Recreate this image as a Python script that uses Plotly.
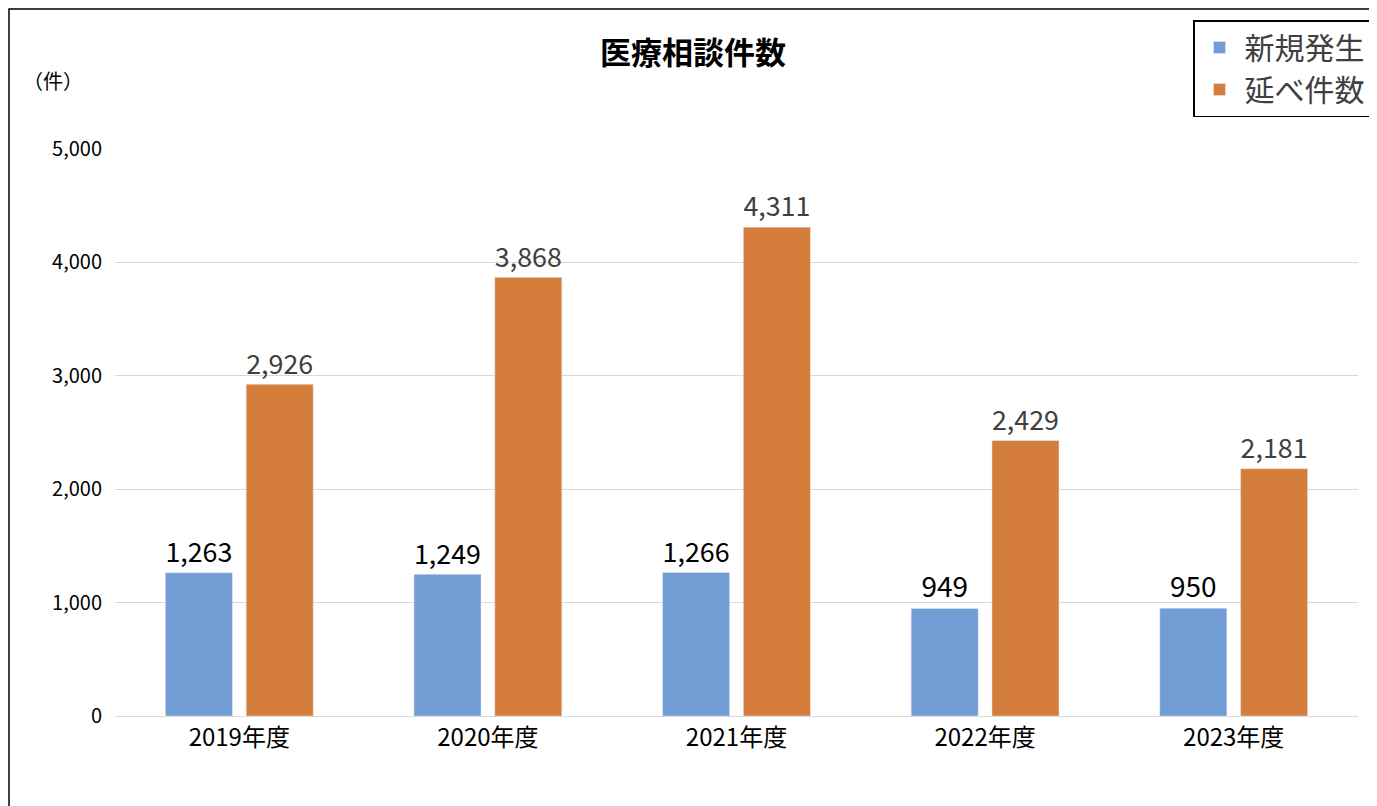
import plotly.graph_objects as go

categories = ["2019年度", "2020年度", "2021年度", "2022年度", "2023年度"]
new_cases = [1263, 1249, 1266, 949, 950]
total_cases = [2926, 3868, 4311, 2429, 2181]
tick_vals = [0, 1000, 2000, 3000, 4000, 5000]
tick_text = ["0", "1,000", "2,000", "3,000", "4,000", "5,000"]

font = "Noto Sans CJK JP"
fig = go.Figure()
fig.add_bar(x=categories, y=new_cases, name="新規発生", marker_color="#719CD4",
            text=[f"{v:,}" for v in new_cases], textposition="outside",
            textfont=dict(size=28, color="#000000"), cliponaxis=False)
fig.add_bar(x=categories, y=total_cases, name="延べ件数", marker_color="#D57D3B",
            text=[f"{v:,}" for v in total_cases], textposition="outside",
            textfont=dict(size=28, color="#404040"), cliponaxis=False)
fig.update_layout(
    width=1377, height=806, barmode="group", bargap=0.35, bargroupgap=0.17,
    margin=dict(l=107, r=27, t=141, b=98, autoexpand=False),
    paper_bgcolor="white", plot_bgcolor="white",
    font=dict(family=font, color="#000000"),
    title=dict(text="<b>医療相談件数</b>", x=685/1377, xanchor="center", xref="container",
               y=1-45/806, yanchor="middle", yref="container",
               font=dict(size=31, color="#000000")),
    legend=dict(x=1363/1377, xanchor="right", y=1-12/806, yanchor="top", xref="container", yref="container",
                bordercolor="#000000", borderwidth=1.5, font=dict(size=30, color="#404040"),
                itemwidth=40, tracegroupgap=10),
    xaxis=dict(tickfont=dict(size=24, color="#000000"), showline=True, linecolor="#D9D9D9", ticks=""),
    yaxis=dict(range=[0, 5000], tickvals=tick_vals, ticktext=tick_text, tickfont=dict(size=20, color="#000000"),
               gridcolor="#D9D9D9", zeroline=False, ticks="", ticklabelstandoff=12),
    annotations=[dict(text="（件）", x=(45-107)/1243, y=1+(141-72)/567, xref="paper", yref="paper",
                      xanchor="center", yanchor="middle", showarrow=False, font=dict(size=20))],
    shapes=[dict(type="rect", xref="paper", yref="paper", x0=-106/1243, x1=1+26/1243,
                 y0=-97/567, y1=1+140/567, line=dict(color="#000000", width=1.5))],
)
fig.write_html("out.html")
